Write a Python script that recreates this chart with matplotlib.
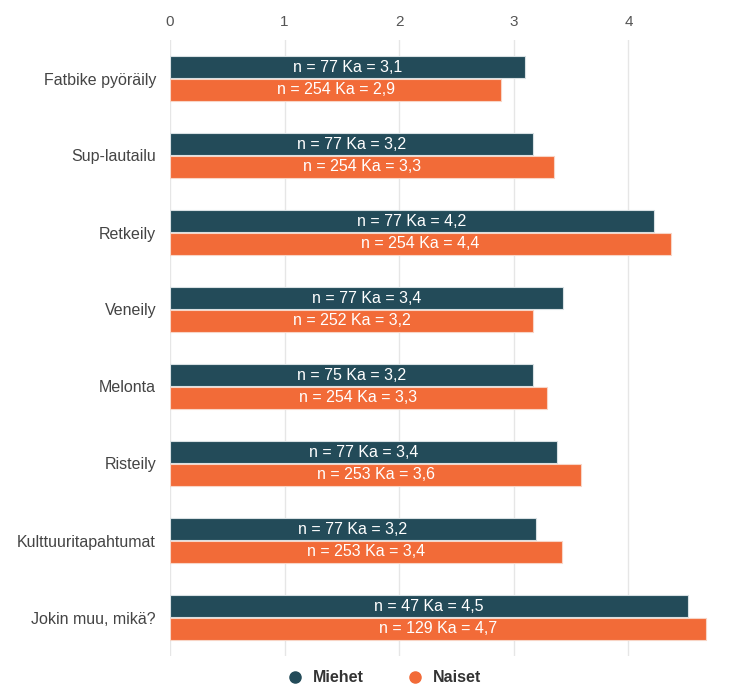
import matplotlib.pyplot as plt
import numpy as np

plt.rcParams['font.family'] = ['Liberation Sans', 'DejaVu Sans']

categories = ["Fatbike pyöräily", "Sup-lautailu", "Retkeily", "Veneily",
              "Melonta", "Risteily", "Kulttuuritapahtumat", "Jokin muu, mikä?"]
miehet = [3.10, 3.17, 4.22, 3.43, 3.17, 3.38, 3.19, 4.52]
naiset = [2.89, 3.35, 4.37, 3.17, 3.29, 3.59, 3.42, 4.68]
miehet_labels = ["n = 77 Ka = 3,1", "n = 77 Ka = 3,2", "n = 77 Ka = 4,2", "n = 77 Ka = 3,4",
                 "n = 75 Ka = 3,2", "n = 77 Ka = 3,4", "n = 77 Ka = 3,2", "n = 47 Ka = 4,5"]
naiset_labels = ["n = 254 Ka = 2,9", "n = 254 Ka = 3,3", "n = 254 Ka = 4,4", "n = 252 Ka = 3,2",
                 "n = 254 Ka = 3,3", "n = 253 Ka = 3,6", "n = 253 Ka = 3,4", "n = 129 Ka = 4,7"]
xticks = [0, 1, 2, 3, 4, 5]

c_m = "#234b59"
c_n = "#f26b38"

fig = plt.figure(figsize=(7.39, 6.89), dpi=100)
ax = fig.add_axes([170 / 739, 1 - 656 / 689, 573 / 739, 616 / 689])

y = np.arange(len(categories))
h = 0.28
bm = ax.barh(y - 0.148, miehet, height=h, color=c_m, edgecolor="#d8e0e3", linewidth=0.8, label="Miehet")
bn = ax.barh(y + 0.148, naiset, height=h, color=c_n, edgecolor="#f8d5c6", linewidth=0.8, label="Naiset")

for bars, labels in ((bm, miehet_labels), (bn, naiset_labels)):
    for b, t in zip(bars, labels):
        ax.text(b.get_width() / 2, b.get_y() + b.get_height() / 2, t,
                ha="center", va="center", color="white", fontsize=11.5)

ax.set_xlim(0, 5)
ax.set_ylim(len(categories) - 0.5, -0.5)
ax.set_xticks(xticks)
ax.xaxis.tick_top()
ax.tick_params(axis="x", length=0, pad=8, labelsize=11, labelcolor="#555555")
ax.set_yticks(y)
ax.set_yticklabels(categories)
ax.tick_params(axis="y", length=0, pad=10, labelsize=11.5, labelcolor="#444444")
ax.grid(axis="x", color="#e6e6e6", linewidth=1)
ax.set_axisbelow(True)
for s in ax.spines.values():
    s.set_visible(False)

handles = [plt.Line2D([], [], marker="o", linestyle="", color=c_m, markersize=8),
           plt.Line2D([], [], marker="o", linestyle="", color=c_n, markersize=8)]
leg = fig.legend(handles, ["Miehet", "Naiset"], loc="center", bbox_to_anchor=(380 / 739, 1 - 678 / 689),
                 ncol=2, frameon=False, handletextpad=0.1, columnspacing=2.2,
                 prop={"weight": "bold", "size": 11.5})
for t in leg.get_texts():
    t.set_color("#333333")

fig.savefig("out.png", dpi=100)
